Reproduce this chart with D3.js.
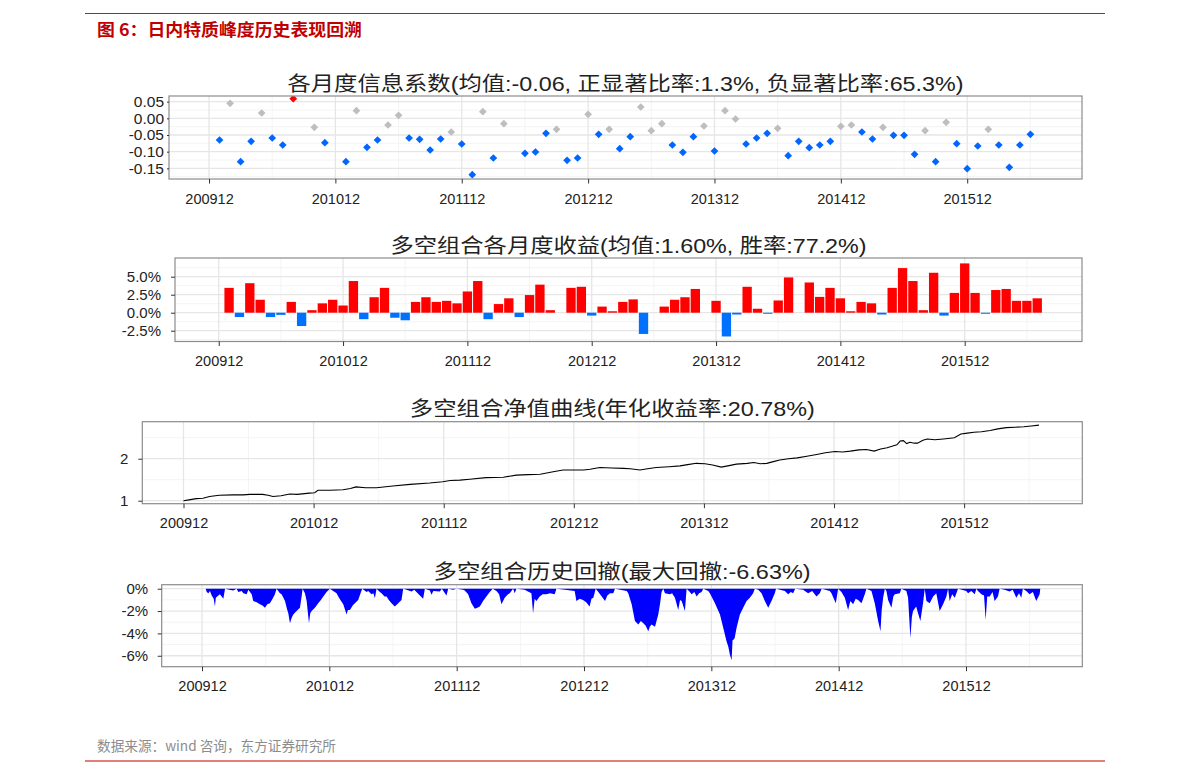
<!DOCTYPE html>
<html><head><meta charset="utf-8">
<script src="https://cdn.jsdelivr.net/npm/d3@7"></script>
<style>body{margin:0;background:#fff}</style>
</head><body>
<svg id="c" width="1191" height="773"></svg>
<script>
// ---------- DATA ----------
// month index: 0 = 200912, 12 = 201012, ...
const xTickMonths = [0, 12, 24, 36, 48, 60, 72];
const xTickLabels = ["200912", "201012", "201112", "201212", "201312", "201412", "201512"];
const xMinorMonths = [6, 18, 30, 42, 54, 66, 78];

// Panel 1: monthly IC, months 1..78 (201001..201606), null = missing
const icValues = [
  -0.065, 0.045, -0.130, -0.069, 0.016, -0.059, -0.080, 0.059, null, -0.027,
  -0.073, null, -0.130, 0.023, -0.087, -0.065, -0.020, 0.009, -0.059, -0.063,
  -0.095, -0.062, -0.041, -0.077, -0.169, 0.020, -0.119, -0.016, null, -0.105,
  -0.101, -0.045, -0.033, -0.126, -0.119, 0.012, -0.048, -0.033, -0.091, -0.055,
  0.034, -0.037, -0.016, -0.080, -0.102, -0.055, -0.023, -0.098, 0.023, -0.002,
  -0.077, -0.059, -0.045, -0.030, -0.112, -0.069, -0.088, -0.080, -0.069, -0.024,
  -0.020, -0.041, -0.062, -0.027, -0.051, -0.051, -0.108, -0.037, -0.130, -0.012,
  -0.076, -0.151, -0.083, -0.033, -0.080, -0.147, -0.080, -0.048];
// significance: n = negative significant, g = not significant, p = positive significant
const icSig = "ngnngnnp-g" + "n-ngnnggnn" + "nngnngng-n" + "nngnngngnn" + "gggnnngngg" +
              "nnngnnnnng" + "gnngnnngng" + "nnngnnnn";
const icYTicks = [0.05, 0, -0.05, -0.10, -0.15];
const icYLabels = ["0.05", "0.00", "-0.05", "-0.10", "-0.15"];
const icYMinor = [0.025, -0.025, -0.075, -0.125, -0.175];

// Panel 2: long-short monthly return (%), months 1..79 (201001..201607)
const retValues = [
  3.45, -0.6, 4.1, 1.8, -0.6, -0.3, 1.5, -1.85, 0.35, 1.3,
  1.8, 1.0, 4.4, -0.9, 2.15, 3.45, -0.7, -1.05, 1.5, 2.15,
  1.5, 1.65, 1.3, 2.95, 4.4, -0.9, 1.2, 2.0, -0.6, 2.45,
  3.9, 0.35, 0, 3.45, 3.6, -0.4, 0.85, 0.2, 1.5, 1.85,
  -2.95, 0, 0.85, 1.8, 2.15, 3.3, 0, 1.65, -3.3, -0.25,
  3.6, 0.55, -0.15, 1.7, 4.9, 0, 4.2, 2.2, 3.45, 2.0,
  0.2, 1.5, 1.3, -0.25, 3.45, 6.2, 4.4, 0.35, 5.55, -0.4,
  2.75, 6.85, 2.75, -0.15, 3.15, 3.3, 1.65, 1.65, 2.0];
const retYTicks = [5, 2.5, 0, -2.5];
const retYLabels = ["5.0%", "2.5%", "0.0%", "-2.5%"];
const retYMinor = [6.25, 3.75, 1.25, -1.25, -3.75];

// Panel 3: NAV curve (month position, value)
const navMonths = [0, 0.5, 1.17, 1.8, 2.4, 3.3, 4.55, 5.5, 6.1, 7.3, 7.8, 8.25, 9.0, 9.8, 10.5, 11.6, 12.1, 12.4,
  13.5, 14.7, 15.4, 15.9, 16.8, 17.8, 19.3, 20.9, 22.7, 23.9, 24.6, 25.5, 26.4, 27.9, 29.5, 30.7, 31.8, 32.9,
  34.1, 35.0, 36.0, 36.9, 37.5, 38.4, 39.5, 40.6, 41.2, 42.1, 42.8, 43.6, 44.8, 45.8, 46.5, 47.3, 48.1, 48.8,
  49.6, 50.2, 51.0, 52.0, 52.6, 53.2, 53.8, 54.4, 55.0, 55.8, 56.6, 57.5, 58.4, 59.2, 60.1, 60.8, 61.5, 62.3,
  63.0, 63.7, 64.3, 64.9, 65.5, 65.8, 66.1, 66.4, 66.7, 67.0, 67.4, 67.7, 68.2, 68.6, 69.3, 70.1, 71.1, 71.7,
  72.3, 72.9, 73.6, 74.4, 75.1, 75.9, 76.7, 77.5, 78.2, 78.9];
const navValues = [1.00, 1.02, 1.05, 1.06, 1.10, 1.13, 1.14, 1.14, 1.15, 1.15, 1.13, 1.10, 1.12, 1.16, 1.15, 1.18, 1.19, 1.25,
  1.25, 1.26, 1.29, 1.33, 1.31, 1.31, 1.35, 1.39, 1.42, 1.45, 1.48, 1.49, 1.51, 1.55, 1.56, 1.61, 1.62, 1.63,
  1.69, 1.73, 1.73, 1.73, 1.75, 1.79, 1.78, 1.77, 1.76, 1.73, 1.76, 1.79, 1.81, 1.83, 1.86, 1.89, 1.88, 1.85,
  1.80, 1.83, 1.87, 1.89, 1.91, 1.88, 1.89, 1.93, 1.97, 2.00, 2.02, 2.06, 2.10, 2.14, 2.17, 2.16, 2.18, 2.21,
  2.22, 2.18, 2.23, 2.26, 2.31, 2.33, 2.42, 2.43, 2.36, 2.39, 2.37, 2.37, 2.44, 2.47, 2.45, 2.47, 2.50, 2.59,
  2.61, 2.63, 2.64, 2.67, 2.71, 2.74, 2.75, 2.76, 2.78, 2.80];
const navYTicks = [1, 2];
const navYLabels = ["1", "2"];
const navYMinor = [1.5, 2.5];

// Panel 4: drawdown (%), (month position, value)
const ddMonths = [0.35, 0.44, 0.60, 0.75, 0.91, 1.10, 1.22, 1.30, 1.54, 1.69, 1.85, 2.01, 2.17, 2.57, 2.95, 3.26, 3.42, 3.74, 3.89, 4.21,
  4.36, 4.68, 4.83, 5.15, 5.46, 5.70, 5.93, 6.15, 6.40, 6.65, 6.87, 7.03, 7.34, 7.50, 7.82, 8.00, 8.13, 8.29, 8.45, 8.60,
  8.91, 9.23, 9.40, 9.48, 9.70, 9.86, 10.08, 10.20, 10.33, 10.64, 10.95, 11.20, 11.43, 11.74, 12.05, 12.68, 12.84, 13.10, 13.31, 13.62,
  13.75, 13.94, 14.20, 14.41, 14.72, 14.94, 15.10, 15.51, 15.66, 15.98, 16.15, 16.29, 16.45, 16.76, 16.92, 17.20, 17.39, 17.60, 17.86, 18.17,
  18.49, 18.80, 18.96, 19.27, 19.74, 20.00, 20.21, 20.53, 20.84, 21.00, 21.47, 21.63, 21.80, 22.41, 22.60, 23.04, 23.20, 23.67, 23.98, 24.61,
  24.76, 25.08, 25.39, 25.71, 25.95, 26.18, 26.49, 26.80, 27.12, 27.40, 27.75, 28.00, 28.22, 28.53, 28.84, 29.00, 29.32, 29.47, 29.63, 30.40,
  31.04, 31.20, 31.35, 31.51, 31.83, 32.10, 32.45, 32.80, 33.24, 33.40, 34.20, 35.12, 35.28, 35.60, 35.91, 36.20, 36.53, 36.70, 36.88, 37.10,
  37.35, 37.51, 37.98, 38.20, 38.45, 38.76, 38.92, 39.40, 40.02, 40.17, 40.49, 40.80, 41.12, 41.35, 41.59, 41.80, 42.06, 42.20, 42.37, 42.69,
  43.00, 43.16, 43.31, 43.47, 43.63, 44.10, 44.30, 44.57, 44.88, 45.05, 45.20, 45.51, 45.67, 45.98, 46.14, 46.40, 46.61, 46.85, 47.08, 47.24,
  47.71, 47.86, 48.34, 48.81, 49.12, 49.43, 49.60, 49.75, 49.91, 50.00, 50.06, 50.20, 50.38, 50.69, 51.00, 51.32, 51.63, 51.94, 52.10, 52.42,
  52.73, 53.04, 53.36, 53.67, 53.98, 54.10, 54.93, 55.24, 55.50, 55.71, 55.90, 56.65, 57.12, 57.50, 57.91, 58.22, 58.40, 59.16, 59.32, 59.73,
  59.95, 60.26, 60.58, 60.89, 61.10, 61.36, 61.60, 61.83, 62.15, 62.46, 62.62, 63.09, 63.40, 63.72, 63.94, 64.05, 64.19, 64.35, 64.50, 64.66,
  64.97, 65.15, 65.29, 65.76, 65.91, 66.38, 66.54, 66.76, 66.90, 67.01, 67.30, 67.48, 67.70, 67.95, 68.11, 68.27, 68.58, 68.90, 69.20, 69.52,
  69.84, 70.15, 70.31, 70.46, 70.70, 70.94, 71.25, 72.03, 72.19, 72.50, 72.82, 72.98, 73.13, 73.45, 73.70, 73.85, 74.00, 74.23, 74.50, 74.70,
  75.01, 75.17, 75.64, 76.11, 76.40, 76.74, 77.00, 77.21, 77.36, 77.68, 77.99, 78.30, 78.62, 78.94, 79.00];
const ddValues = [0, -0.30, -0.40, -0.20, -0.60, -0.90, -1.60, -0.80, -0.60, -0.50, -0.70, -0.90, 0, -0.10, -0.15, 0, -0.30, -0.20, -0.40, -0.50,
  -0.10, -0.50, -1.10, -1.20, -1.40, -1.50, -1.70, -1.40, -1.30, -0.90, -0.50, 0, -0.40, -0.50, -1.10, -1.80, -2.20, -3.10, -2.60, -2.30,
  -2.00, -1.70, -0.60, 0, -0.40, -1.10, -3.10, -2.20, -2.00, -1.70, -1.30, -1.00, -0.70, -0.30, 0, -0.40, -0.70, -1.10, -1.40, -2.30,
  -1.90, -1.90, -1.50, -1.30, -1.00, -0.40, 0, -0.30, -0.20, -0.50, -0.40, -0.85, 0, -0.30, -0.40, -0.70, -0.70, -1.00, -1.30, -1.60,
  -1.30, -1.00, 0, -0.10, -0.25, -0.10, -0.30, -0.60, -0.90, 0, -0.15, -0.55, -0.20, -0.25, 0, -0.60, 0, -0.10, 0, -0.10,
  -0.15, -0.50, -1.30, -1.80, -1.70, -1.60, -1.10, -0.70, -0.30, 0, -0.20, -0.50, -1.40, -0.80, -0.50, -0.40, 0, -0.40, 0, -0.10,
  -0.40, -2.20, -0.90, -1.10, -0.70, -0.50, -0.50, -0.40, -0.50, 0, -0.10, -0.20, -1.10, -0.90, -1.00, -1.20, -1.60, -0.90, -0.80, 0,
  -0.30, -0.50, -1.10, -0.60, -0.40, -0.40, 0, -0.10, -0.20, -0.40, -1.40, -2.90, -3.20, -2.90, -3.10, -3.30, -3.80, -3.40, -3.20, -3.40,
  -2.30, -1.40, -0.30, 0, -0.40, -0.50, -0.40, -0.80, -1.90, -1.00, -1.10, -2.00, 0, -0.30, -0.50, -0.30, -0.70, -0.40, -0.30, 0,
  -0.20, -0.40, -1.30, -2.30, -3.50, -4.70, -5.20, -5.90, -6.40, -4.60, -4.60, -4.40, -3.50, -2.30, -1.70, -1.10, -0.80, -0.40, 0, -0.10,
  -0.40, -1.10, -1.70, -1.10, -0.40, 0, -0.20, -0.50, -0.30, -0.40, 0, -0.10, -0.40, -0.20, -0.70, -0.40, 0, -0.20, -0.40, -1.30,
  0, -0.30, -0.80, -1.90, -1.10, -1.40, -0.90, -1.00, -1.30, -0.50, 0, -0.20, -1.30, -2.90, -3.80, -2.00, -0.80, 0, -0.20, -1.00,
  -1.70, -0.70, -0.50, -0.40, 0, -0.20, -0.80, -4.40, -2.50, -2.00, -1.60, -2.20, -2.90, -1.30, 0, -1.10, -1.30, -0.70, -0.40, -2.00,
  -1.40, -0.70, 0, -1.10, -0.50, -0.80, 0, -0.20, -0.40, -0.20, -0.50, 0, -0.20, -0.50, -0.60, -2.80, -0.70, -0.70, -0.30, -1.10,
  -0.70, 0, -0.10, -0.25, -0.10, -0.80, -0.40, -0.80, 0, -0.20, -0.50, -0.30, -1.10, -0.50, 0];
const ddYTicks = [0, -2, -4, -6];
const ddYLabels = ["0%", "-2%", "-4%", "-6%"];
const ddYMinor = [-1, -3, -5];

const headerTitle = "图 6：日内特质峰度历史表现回溯";
const footerText = "数据来源：wind 咨询，东方证券研究所";
const panelTitles = [
  "各月度信息系数(均值:-0.06, 正显著比率:1.3%, 负显著比率:65.3%)",
  "多空组合各月度收益(均值:1.60%, 胜率:77.2%)",
  "多空组合净值曲线(年化收益率:20.78%)",
  "多空组合历史回撤(最大回撤:-6.63%)"];

// ---------- DRAWING ----------
const FONT = '"Liberation Sans","Noto Sans CJK SC",sans-serif';
const svg = d3.select("#c").style("font-family", FONT);
svg.append("rect").attr("width", 1191).attr("height", 773).attr("fill", "#fff");

// header / footer
svg.append("line").attr("x1", 85).attr("x2", 1105).attr("y1", 13.5).attr("y2", 13.5)
  .attr("stroke", "#B02020").attr("stroke-width", 1);
svg.append("text").attr("x", 97).attr("y", 36).text(headerTitle)
  .attr("font-family", '"Noto Sans CJK SC",sans-serif')
  .attr("font-size", 16.5).attr("font-weight", "bold").attr("fill", "#C00000")
  .attr("textLength", 265).attr("lengthAdjust", "spacingAndGlyphs");
svg.append("text").attr("x", 97).attr("y", 751).text(footerText)
  .attr("font-family", '"Noto Sans CJK SC",sans-serif')
  .attr("font-size", 13.5).attr("fill", "#8c8c8c")
  .attr("textLength", 239).attr("lengthAdjust", "spacingAndGlyphs");
svg.append("line").attr("x1", 85).attr("x2", 1105).attr("y1", 761).attr("y2", 761)
  .attr("stroke", "#D9534F").attr("stroke-width", 1.5);

let clipId = 0;
function panel(cfg) {
  const g = svg.append("g");
  const x = d3.scaleLinear().domain(cfg.xDomain).range([cfg.left, cfg.right]);
  const y = d3.scaleLinear().domain(cfg.yDomain).range([cfg.bottom, cfg.top]);
  const W = cfg.right - cfg.left, H = cfg.bottom - cfg.top;
  g.append("rect").attr("x", cfg.left).attr("y", cfg.top).attr("width", W).attr("height", H).attr("fill", "#fff");
  // minor grid
  g.selectAll(".ym").data(cfg.yMinor.filter(v => v >= cfg.yDomain[0] && v <= cfg.yDomain[1])).join("line")
    .attr("x1", cfg.left).attr("x2", cfg.right).attr("y1", d => y(d)).attr("y2", d => y(d))
    .attr("stroke", "#F3F3F3").attr("stroke-width", 0.9);
  g.selectAll(".xm").data(xMinorMonths.filter(v => v >= cfg.xDomain[0] && v <= cfg.xDomain[1])).join("line")
    .attr("y1", cfg.top).attr("y2", cfg.bottom).attr("x1", d => x(d)).attr("x2", d => x(d))
    .attr("stroke", "#F3F3F3").attr("stroke-width", 0.9);
  // major grid
  g.selectAll(".yM").data(cfg.yTicks).join("line")
    .attr("x1", cfg.left).attr("x2", cfg.right).attr("y1", d => y(d)).attr("y2", d => y(d))
    .attr("stroke", "#E6E6E6").attr("stroke-width", 1.3);
  g.selectAll(".xM").data(xTickMonths).join("line")
    .attr("y1", cfg.top).attr("y2", cfg.bottom).attr("x1", d => x(d)).attr("x2", d => x(d))
    .attr("stroke", "#E6E6E6").attr("stroke-width", 1.3);
  const id = "clip" + (clipId++);
  svg.append("clipPath").attr("id", id).append("rect")
    .attr("x", cfg.left).attr("y", cfg.top).attr("width", W).attr("height", H);
  const marks = g.append("g").attr("clip-path", `url(#${id})`);
  const finish = () => {
    g.append("rect").attr("x", cfg.left).attr("y", cfg.top).attr("width", W).attr("height", H)
      .attr("fill", "none").attr("stroke", "#8c8c8c").attr("stroke-width", 1.2);
    const ax = g.append("g").attr("transform", `translate(0,${cfg.bottom})`)
      .call(d3.axisBottom(x).tickValues(xTickMonths).tickFormat((d, i) => xTickLabels[i])
        .tickSize(4.5).tickSizeOuter(0).tickPadding(10));
    const ay = g.append("g").attr("transform", `translate(${cfg.left},0)`)
      .call(d3.axisLeft(y).tickValues(cfg.yTicks).tickFormat((d, i) => cfg.yLabels[i])
        .tickSize(cfg.yTick === undefined ? 4 : cfg.yTick).tickSizeOuter(0).tickPadding(cfg.yPad));
    [ax, ay].forEach(a => {
      a.select(".domain").remove();
      a.selectAll("line").attr("stroke", "#333").attr("stroke-width", 1);
      a.selectAll("text").attr("fill", "#222").attr("font-family", FONT);
    });
    ax.selectAll("text").attr("font-size", 14.5);
    ay.selectAll("text").attr("font-size", cfg.yFont || 15);
    g.append("text").attr("x", (cfg.left + cfg.right) / 2 + (cfg.titleDx || 0)).attr("y", cfg.titleY)
      .attr("text-anchor", "middle").text(cfg.title)
      .attr("font-size", 20).attr("fill", "#222")
      .attr("textLength", cfg.titleW).attr("lengthAdjust", "spacingAndGlyphs");
  };
  return { marks, x, y, finish };
}

// Panel 1
{
  const p = panel({ left: 169, right: 1082, top: 96, bottom: 179, xDomain: [-3.8, 82.9], yDomain: [-0.182, 0.067],
    yTicks: icYTicks, yLabels: icYLabels, yMinor: icYMinor, title: panelTitles[0], titleY: 91, titleW: 676,
    yTick: 2, yPad: 3, yFont: 15.5 });
  const colors = { n: "#0066FF", g: "#BEBEBE", p: "#FF0000" };
  const pts = icValues.map((v, i) => ({ m: i + 1, v, s: icSig[i] })).filter(d => d.v !== null);
  p.marks.selectAll("path").data(pts).join("path")
    .attr("d", d3.symbol().type(d3.symbolSquare).size(30))
    .attr("transform", d => `translate(${p.x(d.m)},${p.y(d.v)}) rotate(45)`)
    .attr("fill", d => colors[d.s]);
  p.finish();
}
// Panel 2
{
  const p = panel({ left: 175, right: 1082, top: 258, bottom: 341.5, xDomain: [-4.22, 83.32], yDomain: [-4.0, 7.6],
    yTicks: retYTicks, yLabels: retYLabels, yMinor: retYMinor, title: panelTitles[1], titleY: 253, titleW: 476, yPad: 10 });
  const bars = retValues.map((v, i) => ({ m: i + 1, v }));
  p.marks.selectAll("rect").data(bars).join("rect")
    .attr("x", d => p.x(d.m - 0.45)).attr("width", d => p.x(d.m + 0.45) - p.x(d.m - 0.45))
    .attr("y", d => p.y(Math.max(0, d.v))).attr("height", d => Math.abs(p.y(d.v) - p.y(0)))
    .attr("fill", d => d.v >= 0 ? "#FF0000" : "#0070FF");
  p.finish();
}
// Panel 3
{
  const p = panel({ left: 142.3, right: 1082.3, top: 421.7, bottom: 503.7, xDomain: [-3.8, 82.9], yDomain: [0.929, 2.881],
    yTicks: navYTicks, yLabels: navYLabels, yMinor: navYMinor, title: panelTitles[2], titleY: 416, titleW: 405, yPad: 10 });
  const pts = navMonths.map((m, i) => [m, navValues[i]]);
  p.marks.append("path").datum(pts)
    .attr("d", d3.line().x(d => p.x(d[0])).y(d => p.y(d[1])))
    .attr("fill", "none").attr("stroke", "#000").attr("stroke-width", 1.1);
  p.finish();
}
// Panel 4
{
  const p = panel({ left: 161.7, right: 1082.3, top: 584.7, bottom: 666.7, xDomain: [-3.8, 82.96], yDomain: [-6.98, 0.36],
    yTicks: ddYTicks, yLabels: ddYLabels, yMinor: ddYMinor, title: panelTitles[3], titleY: 579, titleW: 377, yPad: 9.5 });
  const pts = ddMonths.map((m, i) => [m, ddValues[i]]);
  p.marks.append("path").datum(pts)
    .attr("d", d3.area().x(d => p.x(d[0])).y0(p.y(0)).y1(d => p.y(d[1])))
    .attr("fill", "#0000FF");
  p.finish();
}
</script>
</body></html>
